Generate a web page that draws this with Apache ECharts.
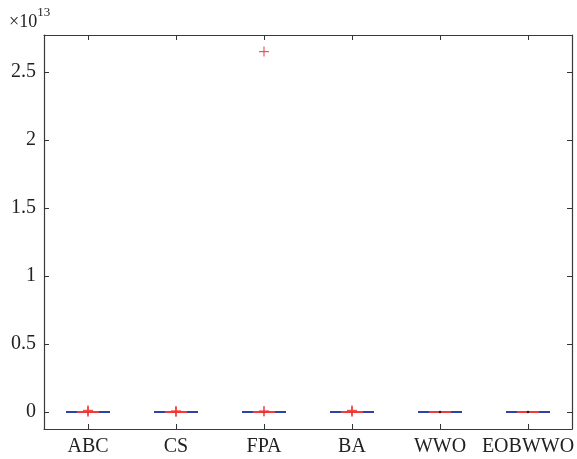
<!DOCTYPE html>
<html>
<head>
<meta charset="utf-8">
<script src="https://cdn.jsdelivr.net/npm/echarts@6/dist/echarts.min.js"></script>
<style>
  html, body { margin: 0; padding: 0; background: #fff; }
  #chart { width: 577px; height: 459px; }
</style>
</head>
<body>
<div id="chart"></div>
<script>
// Algorithms compared
const categories = ['ABC', 'CS', 'FPA', 'BA', 'WWO', 'EOBWWO'];
// Box statistics in units of 1e13 (all collapse to ~0 at this scale)
const boxLower = [0, 0, 0, 0, 0, 0];
const boxUpper = [0.0004, 0.0003, 0.0005, 0.0004, 0, 0];
const medians  = [0.0001, 0.0001, 0.0001, 0.0001, 0, 0];
// Outliers per algorithm, units of 1e13
const outliersABC = [0.012, 0.006, 0.002];
const outliersCS  = [0.008, 0.004, 0.001];
const outliersFPA = [2.65, 0.008, 0.003];
const outliersBA  = [0.012, 0.006, 0.002];
const outliersWWO = [];
const outliersEOB = [];
// y-axis tick labels
const yTicks = [0, 0.5, 1, 1.5, 2, 2.5];

const outlierLists = [outliersABC, outliersCS, outliersFPA, outliersBA, outliersWWO, outliersEOB];
const boxData = categories.map((c, i) => [i, boxLower[i], boxUpper[i], medians[i]]);
const outlierData = [];
outlierLists.forEach((list, i) => list.forEach(v => outlierData.push([i, v])));

const BLUE = '#2d44a6';
const RED = '#f23a3a';
const serif = '"Liberation Serif", "DejaVu Serif", serif';

const frameAxisLine = { show: true, onZero: false, lineStyle: { color: '#3a3a3a', width: 1.2 } };
const frameTick = { show: true, inside: true, length: 5, lineStyle: { color: '#333' } };

const chart = echarts.init(document.getElementById('chart'));
chart.setOption({
  animation: false,
  grid: { left: 44, right: 4, top: 35, bottom: 30 },
  graphic: [{
    type: 'text', left: 9, top: 6,
    style: {
      text: '{a|×10}{b|13}',
      rich: {
        a: { fontFamily: serif, fontSize: 18, fill: '#222', padding: [7, 0, 0, 0] },
        b: { fontFamily: serif, fontSize: 13, fill: '#222', verticalAlign: 'top' }
      }
    }
  }],
  xAxis: [{
    type: 'category', data: categories, position: 'bottom',
    axisLine: frameAxisLine,
    axisTick: Object.assign({ alignWithLabel: true }, frameTick),
    axisLabel: { fontFamily: serif, fontSize: 20, color: '#222', margin: 8, interval: 0 },
    splitLine: { show: false }
  }, {
    type: 'category', data: categories, position: 'top',
    axisLine: frameAxisLine,
    axisTick: Object.assign({ alignWithLabel: true }, frameTick),
    axisLabel: { show: false }
  }],
  yAxis: [{
    type: 'value', min: -0.125, max: 2.772, position: 'left',
    axisLine: frameAxisLine,
    axisTick: Object.assign({ customValues: yTicks }, frameTick),
    axisLabel: { fontFamily: serif, fontSize: 20, color: '#222', margin: 8, customValues: yTicks,
      formatter: v => String(v) },
    splitLine: { show: false }
  }, {
    type: 'value', min: -0.125, max: 2.772, position: 'right',
    axisLine: frameAxisLine,
    axisTick: Object.assign({ customValues: yTicks }, frameTick),
    axisLabel: { show: false },
    splitLine: { show: false }
  }],
  series: [{
    type: 'custom',
    xAxisIndex: 0, yAxisIndex: 0,
    data: boxData,
    z: 2,
    renderItem: function (params, api) {
      const idx = api.value(0);
      const lo = api.coord([idx, api.value(1)]);
      const hi = api.coord([idx, api.value(2)]);
      const md = api.coord([idx, api.value(3)]);
      const band = api.size([1, 0])[0];
      const half = band * 0.25;
      const q = band * 0.125;
      return {
        type: 'group',
        children: [
          { type: 'line', shape: { x1: lo[0] - half, y1: lo[1], x2: lo[0] + half, y2: lo[1] },
            style: { stroke: BLUE, lineWidth: 2 } },
          { type: 'line', shape: { x1: hi[0] - half, y1: hi[1], x2: hi[0] + half, y2: hi[1] },
            style: { stroke: BLUE, lineWidth: 2 } },
          { type: 'line', shape: { x1: md[0] - q, y1: md[1], x2: md[0] + q, y2: md[1] },
            style: { stroke: RED, lineWidth: 2 } },
          { type: 'circle', shape: { cx: md[0], cy: md[1], r: 1.3 },
            style: { fill: '#222' } }
        ]
      };
    }
  }, {
    type: 'custom',
    xAxisIndex: 0, yAxisIndex: 0,
    data: outlierData,
    z: 3,
    renderItem: function (params, api) {
      const p = api.coord([api.value(0), api.value(1)]);
      const a = 5;
      return {
        type: 'group',
        children: [
          { type: 'line', shape: { x1: p[0] - a, y1: p[1], x2: p[0] + a, y2: p[1] },
            style: { stroke: RED, lineWidth: 1.2, opacity: 0.85 } },
          { type: 'line', shape: { x1: p[0], y1: p[1] - a, x2: p[0], y2: p[1] + a },
            style: { stroke: RED, lineWidth: 1.2, opacity: 0.85 } }
        ]
      };
    }
  }]
});
</script>
</body>
</html>
